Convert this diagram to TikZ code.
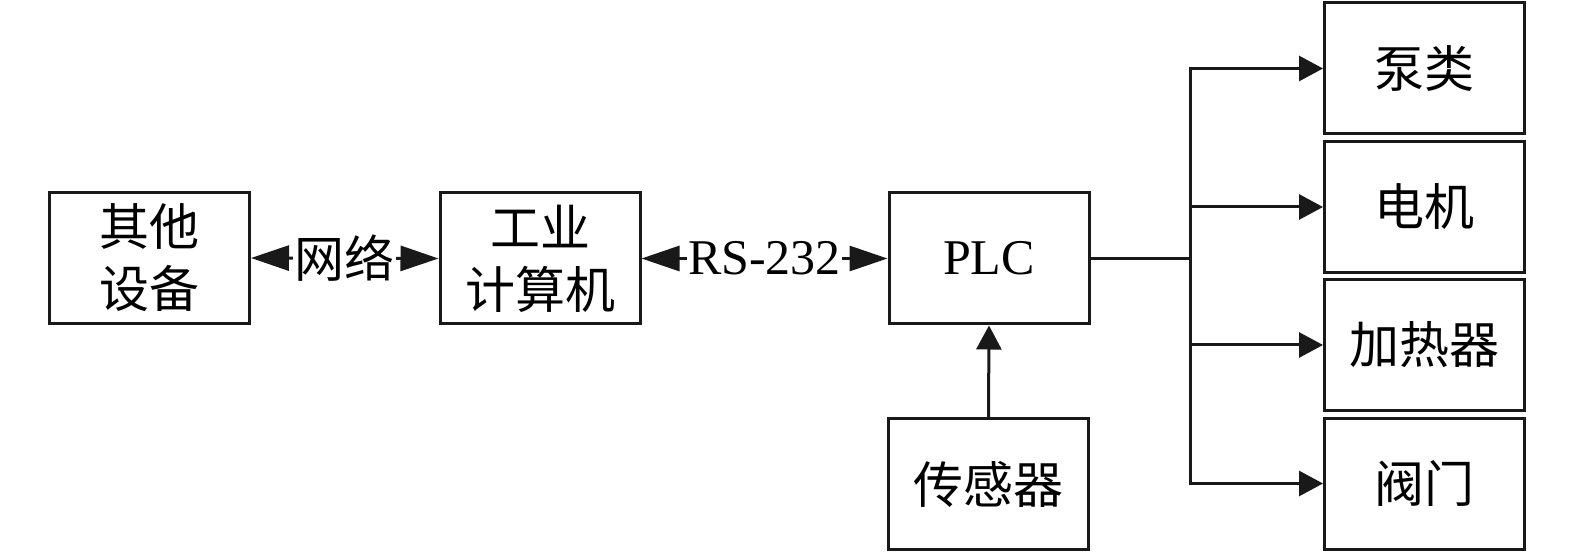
\documentclass[tikz,border=0pt]{standalone}
\usepackage{fontspec}
\setmainfont{Liberation Serif}
\newfontfamily\cjk{Noto Sans CJK SC}
\usetikzlibrary{arrows.meta}
\begin{document}
\begin{tikzpicture}[x=1pt,y=-1pt,
  box/.style={draw=black!90, line width=3pt, minimum width=200pt, minimum height=131pt,
    inner sep=0pt, align=center, font=\cjk\fontsize{50}{62}\selectfont},
  lbl/.style={fill=white, inner sep=1.5pt, font=\cjk\fontsize{50}{62}\selectfont},
  dbl/.style={draw=black!90, line width=3pt,
    {Triangle[length=38pt,width=25pt]}-{Triangle[length=38pt,width=25pt]}},
  arr/.style={draw=black!90, line width=3pt, -{Triangle[length=24pt,width=25pt]}},
  conn/.style={draw=black!90, line width=3pt}]
\useasboundingbox (0,0) rectangle (1575,553);
\fill[white] (0,0) rectangle (1575,553);
\node[box] (other) at (149.5,258) {其他\\设备};
\node[box] (pc) at (540,258.5) {工业\\计算机};
\node[box, font=\fontsize{50}{62}\selectfont] (plc) at (989,258.5) {PLC};
\node[box] (sensor) at (988.5,484) {传感器};
\node[box] (pump) at (1424.5,68.5) {泵类};
\node[box] (motor) at (1424.5,207) {电机};
\node[box] (heater) at (1424.5,345) {加热器};
\node[box] (valve) at (1424.5,483.5) {阀门};
\draw[dbl] (other.east) -- (pc.west) node[lbl, midway] (net) {网络};
\draw[dbl] (pc.east) -- (plc.west) node[lbl, midway, font=\fontsize{50}{62}\selectfont] (rs) {RS-232};
\draw[arr] (sensor.north) -- (plc.south);
\coordinate (j) at (1190,258.5);
\draw[conn] (plc.east) -- (j);
\draw[arr] (j) |- (pump.west);
\draw[arr] (j) |- (motor.west);
\draw[arr] (j) |- (heater.west);
\draw[arr] (j) |- (valve.west);
\end{tikzpicture}
\end{document}
